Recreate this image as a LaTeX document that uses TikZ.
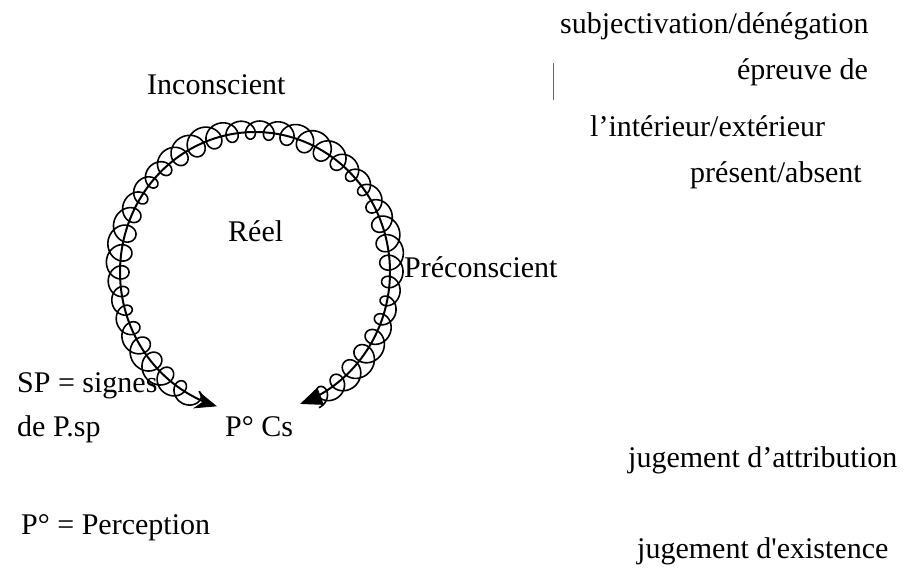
\documentclass[tikz,border=0pt]{standalone}
\usepackage{fontspec}
\setmainfont{Liberation Serif}
\usetikzlibrary{arrows.meta}
\begin{document}
\begin{tikzpicture}[x=1pt,y=-1pt,
  lbl/.style={font=\fontsize{30}{36}\selectfont, inner sep=0pt},
  mainarc/.style={line width=2pt, {Triangle[length=22pt,width=18pt]}-{Stealth[length=22pt,width=18pt,inset=7pt]}},
  loopline/.style={line width=1.6pt, line join=round},
  scanmark/.style={line width=0.8pt, black!60}]
\useasboundingbox (0,0) rectangle (906,575);
% circle of the psychic apparatus
\coordinate (lt) at (217,405);
\coordinate (rt) at (300,408);
\draw[loopline] plot[domain=-64:244, samples=2000]
  ({255+137*cos(\x)+(11+2*sin(7*\x))*cos(46*\x)},
   {272-142*sin(\x)-(11+2*sin(7*\x))*sin(46*\x)});
\draw[mainarc] plot[domain=-70.5:253.6, samples=200, smooth] ({255+135*cos(\x)},{272-140*sin(\x)});
% labels
\node[lbl, anchor=base west] (inc) at (147,95) {Inconscient};
\node[lbl, anchor=base west] (reel) at (228,242) {Réel};
\node[lbl, anchor=base west] (prec) at (404,277) {Préconscient};
\node[lbl, anchor=base west] (pcs) at (225,436) {P° Cs};
\node[lbl, anchor=base west] (sp) at (17,392) {SP = signes};
\node[lbl, anchor=base west] (desp) at (17,436) {de P.sp};
\node[lbl, anchor=base west] (perc) at (21,534) {P° = Perception};
\node[lbl, anchor=base west] (subj) at (560,34) {subjectivation/dénégation};
\node[lbl, anchor=base east] (epr) at (868,80) {épreuve de};
\node[lbl, anchor=base west] (int) at (590,137) {l’intérieur/extérieur};
\node[lbl, anchor=base west] (pres) at (690,183) {présent/absent};
\node[lbl, anchor=base west] (attr) at (628,467) {jugement d’attribution};
\node[lbl, anchor=base west] (exist) at (637,558) {jugement d\textquotesingle existence};
% scan mark
\draw[scanmark] (553,63) -- (553,100);
\end{tikzpicture}
\end{document}
